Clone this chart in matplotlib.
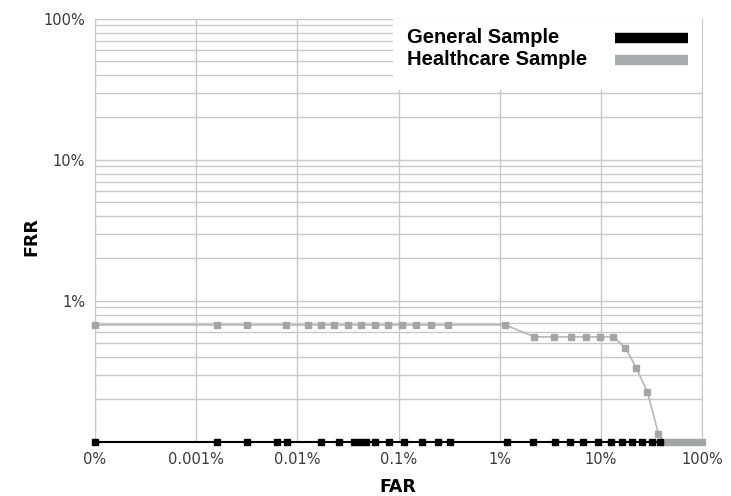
import matplotlib.pyplot as plt
from matplotlib.patches import Rectangle
from matplotlib.ticker import FixedLocator, NullFormatter

# values in percent; FRR of 0 is drawn on the bottom edge (0.1)
general_far = [0.0001, 0.0016, 0.00316, 0.00627, 0.00787, 0.0172, 0.0261, 0.0367,
               0.0418, 0.048, 0.0588, 0.0797, 0.114, 0.170, 0.243, 0.325,
               1.18, 2.13, 3.55, 4.91, 6.67, 9.29, 12.7, 16.2, 20.4, 25.6, 32.1, 38.8]
general_frr = [0.1] * len(general_far)

health_far = [0.0001, 0.0016, 0.00316, 0.00774, 0.0128, 0.0172, 0.0231, 0.0318,
              0.0428, 0.0588, 0.079, 0.109, 0.150, 0.210, 0.310,
              1.135, 2.20, 3.47, 5.11, 7.19, 9.89, 13.3, 17.5, 22.4, 28.9, 37.1,
              42, 48, 55, 62, 70, 79, 89, 100]
health_frr = [0.676] * 16 + [0.556] * 6 + [0.464, 0.335, 0.226, 0.114] + [0.1] * 8

xticks = [0.0001, 0.001, 0.01, 0.1, 1, 10, 100]
xlabels = ['0%', '0.001%', '0.01%', '0.1%', '1%', '10%', '100%']
yticks = [1, 10, 100]
ylabels = ['1%', '10%', '100%']
series_names = ['General Sample', 'Healthcare Sample']

fig = plt.figure(figsize=(7.31, 4.96), dpi=100)
ax = fig.add_axes([0.13, 0.109, 0.8303, 0.8528])

gray = '#a3a5a7'
ax.plot(health_far, health_frr, color='#b4b6b8', lw=1.2, marker='s', ms=4.2,
        mfc=gray, mec=gray, clip_on=False, zorder=3)
ax.plot(general_far, general_frr, color='black', lw=1.3, marker='s', ms=4.2,
        mfc='black', mec='black', clip_on=False, zorder=4)
# black baseline across the bottom
ax.plot([0.0001, 38.8], [0.1, 0.1], color='black', lw=1.5, clip_on=False, zorder=4)

ax.set_xscale('log')
ax.set_yscale('log')
ax.set_xlim(0.0001, 100)
ax.set_ylim(0.1, 100)

ax.xaxis.set_major_locator(FixedLocator(xticks))
ax.set_xticklabels(xlabels)
ax.xaxis.set_minor_formatter(NullFormatter())
ax.xaxis.set_minor_locator(FixedLocator([]))
minor_y = [m * d for d in (0.1, 1, 10) for m in range(2, 10)]
ax.yaxis.set_major_locator(FixedLocator(yticks))
ax.set_yticklabels(ylabels)
ax.yaxis.set_minor_locator(FixedLocator(minor_y))
ax.yaxis.set_minor_formatter(NullFormatter())

ax.grid(True, which='major', color='#c8c8c8', lw=1)
ax.grid(True, which='minor', axis='y', color='#c8c8c8', lw=1)
ax.tick_params(which='both', length=0, labelsize=10.5, labelcolor='#3a3a3a', pad=7)
for s in ax.spines.values():
    s.set_color('#c8c8c8')
ax.spines['bottom'].set_visible(False)

ax.set_xlabel('FAR', fontsize=12.5, fontweight='bold', va='top')
ax.xaxis.set_label_coords(0.499, -0.085)
ax.set_ylabel('FRR', fontsize=12.5, fontweight='bold')
ax.yaxis.set_label_coords(-0.09, 0.485)

# legend drawn by hand: text on the left, bars on the right
ax.add_patch(Rectangle((0.491, 0.832), 0.509, 0.168, transform=ax.transAxes,
                       facecolor='white', edgecolor='none', zorder=5))
legend_colors = ['black', '#a8abae']
legend_y = [0.956, 0.903]
for name, c, y in zip(series_names, legend_colors, legend_y):
    ax.text(0.514, y, name, transform=ax.transAxes, ha='left', va='center',
            fontsize=14.5, fontweight='bold', family='Liberation Sans', zorder=6)
    ax.plot([0.857, 0.977], [y, y], transform=ax.transAxes, color=c, lw=7.5,
            solid_capstyle='butt', clip_on=False, zorder=6)

fig.savefig('out.png', dpi=100)
